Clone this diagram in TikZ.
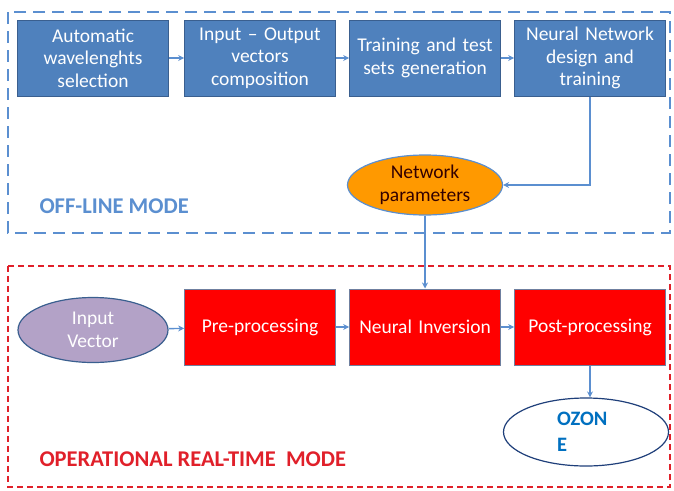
\documentclass[tikz,border=0pt]{standalone}
\usepackage{fontspec}
\setmainfont{Carlito}
\usepackage{xcolor}
\usepackage{tikz}
\usetikzlibrary{arrows.meta,positioning,shapes.geometric}

\definecolor{boxblue}{HTML}{4F81BD}
\definecolor{edgeblue}{HTML}{3A5F8F}
\definecolor{lineblue}{HTML}{5B8FD0}
\definecolor{boxred}{HTML}{FF0000}
\definecolor{edgered}{HTML}{6F7F9F}
\definecolor{paramorange}{HTML}{FF9900}
\definecolor{vecpurple}{HTML}{B3A2C7}
\definecolor{ozoneblue}{HTML}{0070C0}
\definecolor{ozoneedge}{HTML}{1F3F7A}
\definecolor{modered}{HTML}{E0202A}

\begin{document}
\begin{tikzpicture}[x=1pt, y=-1pt,
            >={Stealth[length=6pt,width=6pt]},
            box/.style={draw=edgeblue, fill=boxblue, rectangle, line width=1pt,
                 minimum width=150pt, minimum height=76pt, text width=144pt,
                 align=center, text=white, font=\fontsize{19.5}{22.5}\selectfont},
            redbox/.style={box, fill=boxred, draw=edgered},
            param/.style={draw=lineblue, fill=paramorange, ellipse, line width=1.2pt,
                 minimum width=155pt, minimum height=60pt, inner sep=0pt, align=center,
                 text=black!80!red, font=\fontsize{19.5}{22.5}\selectfont},
            vec/.style={param, fill=vecpurple, draw=edgeblue, text=white,
                 minimum width=150pt, minimum height=65pt},
            result/.style={draw=ozoneedge, fill=white, ellipse, line width=1.2pt,
                 minimum width=165pt, minimum height=68pt, inner sep=0pt, text width=58pt,
                 align=left, text=ozoneblue, font=\fontsize{20.5}{26}\selectfont\bfseries},
            flow/.style={->, draw=lineblue, line width=1.4pt},
            modelabel/.style={anchor=west, font=\fontsize{22.5}{24}\selectfont\bfseries}
            ]
            \useasboundingbox (0,0) rectangle (674,490);

            % Frames
            \draw[lineblue, line width=2.4pt, dash pattern=on 12pt off 7pt] (8,12) rectangle (670,233);
            \draw[modered, line width=2pt, dash pattern=on 6pt off 4pt] (8,266) rectangle (670,487);

            % Off-line nodes
            \node[box] (sel) at (93,58) {Automatic\\wavelenghts\\selection};
            \node[box] (comp) at (260,58) {Input -- Output\\vectors\\composition};
            \node[box] (gen) at (425,58) {Training and test\\sets generation};
            \node[box] (nn) at (590,58) {Neural Network\\design and\\training};
            \node[param] (par) at (425,185) {Network\\parameters};
            \node[modelabel, text=lineblue] (offl) at (36,206) {OFF-LINE MODE};

            % Real-time nodes
            \node[vec] (inp) at (93,330) {Input\\Vector};
            \node[redbox] (pre) at (260,327) {Pre-processing};
            \node[redbox] (inv) at (425,327) {Neural Inversion};
            \node[redbox] (post) at (590,327) {Post-processing};
            \node[result] (oz) at (586,432) {OZON\\E};
            \node[modelabel, text=modered] (realt) at (36,459) {OPERATIONAL REAL-TIME~ MODE};

            % Arrows
            \draw[flow] (sel) -- (comp);
            \draw[flow] (comp) -- (gen);
            \draw[flow] (gen) -- (nn);
            \draw[flow] (nn.south) |- (par.east);
            \draw[flow] (par.south) -- (inv.north);
            \draw[flow] (inp) -- (pre);
            \draw[flow] (pre) -- (inv);
            \draw[flow] (inv) -- (post);
            \draw[flow] (post.south) -- (post.south |- oz.north);
        \end{tikzpicture}
\end{document}
